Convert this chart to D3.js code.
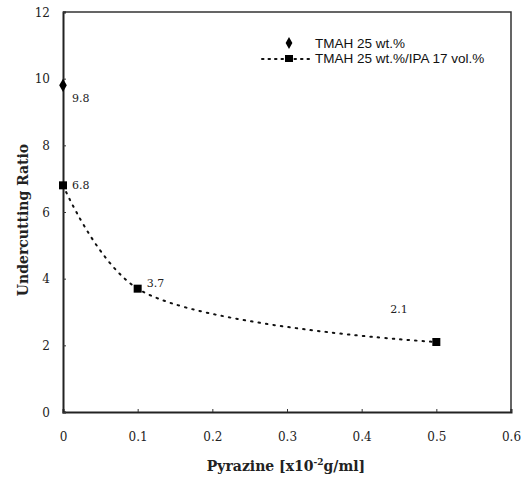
<!DOCTYPE html>
<html>
<head>
<meta charset="utf-8">
<script src="https://cdn.jsdelivr.net/npm/d3@7"></script>
<style>
  body { margin: 0; background: #fff; }
  svg { display: block; }
</style>
</head>
<body>
<div id="chart"></div>
<script>
// data
const tmahX = [0];
const tmahY = [9.8];
const ipaX = [0, 0.1, 0.5];
const ipaY = [6.8, 3.7, 2.1];
const xTicks = [0, 0.1, 0.2, 0.3, 0.4, 0.5, 0.6];
const yTicks = [0, 2, 4, 6, 8, 10, 12];
const seriesNames = ["TMAH 25 wt.%", "TMAH 25 wt.%/IPA 17 vol.%"];

const width = 521, height = 479;
const margin = {left: 63, right: 10, top: 12, bottom: 67};

const svg = d3.select("#chart").append("svg")
    .attr("width", width)
    .attr("height", height);

const x = d3.scaleLinear().domain([0, 0.6]).range([margin.left, width - margin.right]);
const y = d3.scaleLinear().domain([0, 12]).range([height - margin.bottom, margin.top]);

const serif = "'DejaVu Serif', 'Liberation Serif', serif";
const sans = "'Liberation Sans', Arial, sans-serif";

// frame (top/right)
svg.append("path")
    .attr("d", `M${x(0)},${y(12)} H${x(0.6)} V${y(0)}`)
    .attr("fill", "none")
    .attr("stroke", "#333")
    .attr("stroke-width", 1.5);

// axes
const xAxis = svg.append("g")
    .attr("transform", `translate(0,${y(0)})`)
    .call(d3.axisBottom(x).tickValues(xTicks).tickSize(-3).tickPadding(20).tickFormat(d => d === 0 ? "0" : d3.format(".1f")(d)));
const yAxis = svg.append("g")
    .attr("transform", `translate(${x(0)},0)`)
    .call(d3.axisLeft(y).tickValues(yTicks).tickSize(-3).tickPadding(13));

[xAxis, yAxis].forEach(g => {
    g.select(".domain").attr("stroke", "#222").attr("stroke-width", 2);
    g.selectAll(".tick line").attr("stroke", "#333");
    g.selectAll(".tick text")
        .style("font-family", serif)
        .style("font-size", "12px")
        .attr("fill", "#222");
});
yAxis.selectAll(".tick text").attr("dy", "0.35em");

// smoothed dotted line
const line = d3.line()
    .x(d => x(d[0]))
    .y(d => y(d[1]))
    .curve(d3.curveCatmullRom.alpha(0.5));

svg.append("path")
    .datum(ipaX.map((v, i) => [v, ipaY[i]]))
    .attr("d", line)
    .attr("fill", "none")
    .attr("stroke", "#111")
    .attr("stroke-width", 2)
    .attr("stroke-dasharray", "1.5,6")
    .attr("stroke-linecap", "round");

// markers
svg.append("g").selectAll("path")
    .data(tmahX.map((v, i) => [v, tmahY[i]]))
    .join("path")
    .attr("transform", d => `translate(${x(d[0])},${y(d[1])})`)
    .attr("d", d3.symbol(d3.symbolDiamond, 50))
    .attr("fill", "#000");

svg.append("g").selectAll("rect")
    .data(ipaX.map((v, i) => [v, ipaY[i]]))
    .join("rect")
    .attr("x", d => x(d[0]) - 4)
    .attr("y", d => y(d[1]) - 4)
    .attr("width", 8)
    .attr("height", 8)
    .attr("fill", "#000");

// value labels
const labels = [
    {v: tmahY[0], x: tmahX[0], dx: 9, dy: 17},
    {v: ipaY[0], x: ipaX[0], dx: 9, dy: 4},
    {v: ipaY[1], x: ipaX[1], dx: 9, dy: -2},
    {v: ipaY[2], x: ipaX[2], dx: -46, dy: -29}
];
svg.append("g").selectAll("text")
    .data(labels)
    .join("text")
    .attr("x", d => x(d.x) + d.dx)
    .attr("y", d => y(d.v) + d.dy)
    .style("font-family", serif)
    .style("font-size", "11px")
    .attr("fill", "#222")
    .text(d => d.v.toFixed(1));

// legend
const leg = svg.append("g");
leg.append("path")
    .attr("transform", "translate(289,43)")
    .attr("d", d3.symbol(d3.symbolDiamond, 40))
    .attr("fill", "#000");
leg.append("line")
    .attr("x1", 262).attr("x2", 313)
    .attr("y1", 59).attr("y2", 59)
    .attr("stroke", "#111")
    .attr("stroke-width", 2)
    .attr("stroke-dasharray", "1.5,5")
    .attr("stroke-linecap", "round");
leg.append("rect")
    .attr("x", 285).attr("y", 55)
    .attr("width", 8).attr("height", 7)
    .attr("fill", "#000");
leg.selectAll("text")
    .data(seriesNames)
    .join("text")
    .attr("x", 315)
    .attr("y", (d, i) => 48 + i * 15)
    .style("font-family", sans)
    .style("font-size", "13.5px")
    .attr("fill", "#111")
    .text(d => d);

// axis titles
svg.append("text")
    .attr("transform", `translate(28,${(y(0) + y(12)) / 2 + 8}) rotate(-90)`)
    .attr("text-anchor", "middle")
    .style("font-family", serif)
    .style("font-weight", "bold")
    .style("font-size", "14px")
    .attr("fill", "#222")
    .text("Undercutting Ratio");

const xt = svg.append("text")
    .attr("x", 286)
    .attr("y", 471)
    .attr("text-anchor", "middle")
    .style("font-family", serif)
    .style("font-weight", "bold")
    .style("font-size", "14px")
    .attr("fill", "#222");
xt.append("tspan").text("Pyrazine [x10");
xt.append("tspan").attr("dy", -6).style("font-size", "9px").text("-2");
xt.append("tspan").attr("dy", 6).text("g/ml]");
</script>
</body>
</html>
